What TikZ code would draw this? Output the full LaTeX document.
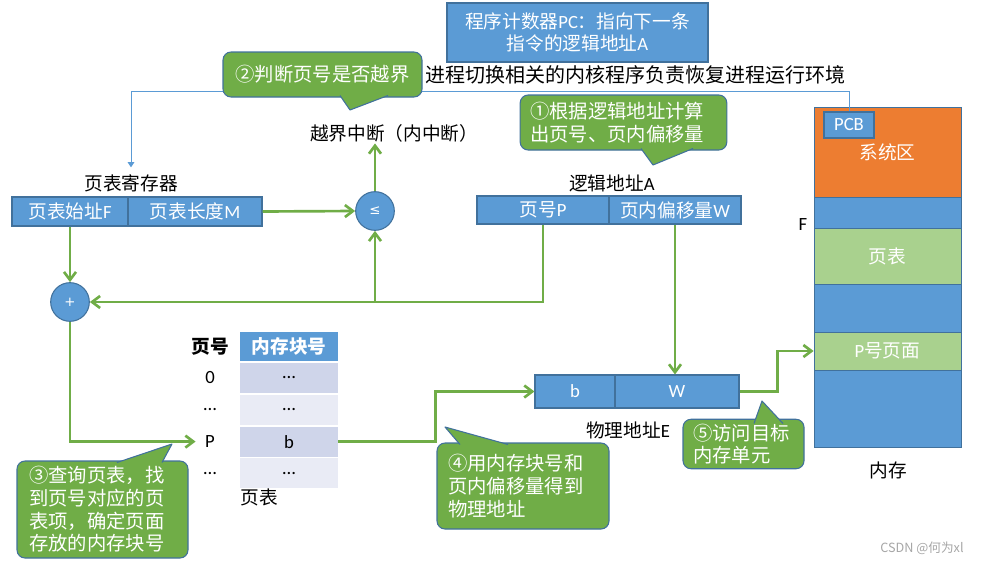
\documentclass[tikz,border=0pt]{standalone}
\usepackage{fontspec}
\setmainfont{Noto Sans CJK SC}
\newfontfamily\lat{Carlito}
\newfontfamily\sym{DejaVu Sans}
\usetikzlibrary{positioning, arrows.meta}

\definecolor{boxblue}{HTML}{5B9BD5}
\definecolor{edgeblue}{HTML}{41719C}
\definecolor{flowgreen}{HTML}{70AD47}
\definecolor{sysorange}{HTML}{ED7D31}
\definecolor{pagegreen}{HTML}{A9D18E}
\definecolor{rowdark}{HTML}{CFD5EA}
\definecolor{rowlight}{HTML}{E9EBF5}

% pointer of a callout: base point, tip, base point
\newcommand{\pointer}[3]{%
  \fill[flowgreen] #1 -- #2 -- #3 -- cycle;
  \draw[edgeblue, line width=0.8pt, line join=round] #1 -- #2 -- #3;}

\begin{document}
\begin{tikzpicture}[x=0.75pt, y=-0.75pt]
	\tikzstyle{txt} = [font=\fontsize{14}{16.5}\selectfont, inner sep=1pt]
	\tikzstyle{cell} = [rectangle, draw=edgeblue, fill=boxblue, text=white, line width=0.8pt, inner sep=0pt, font=\fontsize{14}{16}\selectfont]
	\tikzstyle{dot} = [circle, draw=edgeblue, fill=boxblue, text=white, line width=0.8pt, inner sep=0pt, minimum size=29pt, font=\fontsize{10}{12}\selectfont]
	\tikzstyle{note} = [rectangle, rounded corners=6pt, draw=edgeblue, fill=flowgreen, text=white, line width=0.8pt, font=\fontsize{14.5}{17}\selectfont, align=left]
	\tikzstyle{flow} = [draw=flowgreen, line width=2pt, -{Straight Barb[length=6pt,width=9pt]}]
	\tikzstyle{mem} = [rectangle, draw=edgeblue, line width=0.6pt, minimum width=110.25pt, inner sep=0pt, text=white, font=\fontsize{14}{16}\selectfont]
	\tikzstyle{row} = [rectangle, minimum width=73.5pt, minimum height=22.5pt, inner sep=0pt, font=\fontsize{14}{16}\selectfont]

	\useasboundingbox (0,0) rectangle (981,564);

	% program counter
	\node [cell, minimum width=195.75pt, minimum height=44.25pt, align=center] (pc) at (577.5,32.5) {程序计数器{\lat PC}：指向下一条\\指令的逻辑地址{\lat A}};
	\node [txt, font=\fontsize{15}{18}\selectfont] (ctx) at (635,75) {进程切换相关的内核程序负责恢复进程运行环境};

	% page table register
	\node [txt] (regname) at (131,183) {页表寄存器};
	\node [cell, minimum width=87pt, minimum height=21.75pt] (regF) at (70,211.5) {页表始址{\lat F}};
	\node [cell, minimum width=100.5pt, minimum height=21.75pt, right=-0.8pt of regF] (regM) {页表长度{\lat M}};
	\node [dot] (le) at (375,211) {{\sym ≤}};
	\node [dot] (plus) at (70,302) {{\sym +}};
	\node [txt] (intr) at (394,133) {越界中断（内中断）};

	% logical address
	\node [txt] (laddr) at (612,183) {逻辑地址{\lat A}};
	\node [cell, minimum width=99pt, minimum height=21pt] (pP) at (543,210) {页号{\lat P}};
	\node [cell, minimum width=99pt, minimum height=21pt, right=-0.8pt of pP] (pW) {页内偏移量{\lat W}};

	% memory
	\node [mem, fill=sysorange, minimum height=67.5pt] (sys) at (887.5,152) {系统区};
	\node [cell, minimum width=37.5pt, minimum height=19.5pt] (pcb) at (849,125) {{\lat PCB}};
	\node [mem, fill=boxblue, minimum height=23.25pt, below=-0.6pt of sys] (m1) {};
	\node [mem, fill=pagegreen, minimum height=42pt, below=-0.6pt of m1] (ptab) {页表};
	\node [mem, fill=boxblue, minimum height=36pt, below=-0.6pt of ptab] (m2) {};
	\node [mem, fill=pagegreen, minimum height=28.5pt, below=-0.6pt of m2] (page) {{\lat P}号页面};
	\node [mem, fill=boxblue, minimum height=57.75pt, below=-0.6pt of page] (m3) {};
	\node [txt] (flab) at (803,225) {{\lat F}};
	\node [txt] (memname) at (888,470) {内存};

	% page table
	\node [txt, font=\fontsize{14}{16.5}\selectfont\bfseries] (numhead) at (210,347) {页号};
	\node [row, fill=boxblue, text=white, minimum height=21.75pt, font=\fontsize{14}{16}\selectfont\bfseries] (cellhead) at (289,346.5) {内存块号};
	\node [row, fill=rowdark, below=1pt of cellhead] (cell0) {{\lat …}};
	\node [row, fill=rowlight, below=1pt of cell0] (cell1) {{\lat …}};
	\node [row, fill=rowdark, below=1pt of cell1] (cellP) {{\lat b}};
	\node [row, fill=rowlight, below=1pt of cellP] (cell3) {{\lat …}};
	\node [txt] (num0) at (numhead |- cell0) {{\lat 0}};
	\node [txt] (num1) at (numhead |- cell1) {{\lat …}};
	\node [txt] (numP) at (numhead |- cellP) {{\lat P}};
	\node [txt] (num3) at (numhead |- cell3) {{\lat …}};
	\node [txt] (ptname) at (259.5,497) {页表};

	% physical address
	\node [cell, minimum width=60pt, minimum height=24.75pt] (pb) at (575,391.5) {{\lat b}};
	\node [cell, minimum width=93pt, minimum height=24.75pt, right=-0.8pt of pb] (pw) {{\lat W}};
	\node [txt] (paddr) at (628,430) {物理地址{\lat E}};

	% data flow
	\draw [flow] (regM.east) -- (le.west);
	\draw [flow] (le.north) -- (le.north |- intr.south);
	\draw [flow] (regF.south) -- (plus.north);
	\draw [flow] (pP.south) |- (plus.east);
	\draw [flow] (le.south |- plus.east) -- (le.south);
	\draw [flow, shorten >=6pt] (plus.south) |- (numP.west);
	\draw [flow] (cellP.east) -- ++(97,0) |- (pb.west);
	\draw [flow] (pW.south) -- (pW.south |- pw.north);
	\draw [flow] (pw.east) -- ++(38,0) |- (page.west);

	% process switch restores the register
	\draw [draw=boxblue, line width=0.75pt, -{Triangle[length=4pt,width=5pt]}, shorten >=4pt] (pcb.north) -- ++(0,-20) -| (regname.north);

	% callouts
	\node [note, minimum width=149.25pt, minimum height=33.75pt, align=center] (judge) at (322.5,74.5) {②判断页号是否越界};
	\pointer{(340,95.5)}{(350,110)}{(388,95.5)}
	\node [note, text width=140pt, inner xsep=7.5pt, minimum height=41.25pt] (calc) at (623.5,122.5) {①根据逻辑地址计算\\出页号、页内偏移量};
	\pointer{(641,148.5)}{(653,165)}{(693,148.5)}
	\node [note, text width=110.25pt, inner xsep=9pt, minimum height=72.75pt] (lookup) at (102.5,509.5) {③查询页表，找\\到页号对应的页\\表项，确定页面\\存放的内存块号};
	\pointer{(117,462.5)}{(172,444)}{(162,462.5)}
	\node [note, text width=112.5pt, inner xsep=8.25pt, minimum height=64.5pt] (join) at (523,486) {④用内存块号和\\页内偏移量得到\\物理地址};
	\pointer{(460,444.5)}{(445,427)}{(508,444.5)}
	\node [note, text width=75.75pt, inner xsep=7.5pt, minimum height=33pt] (visit) at (743.5,444) {⑤访问目标\\内存单元};
	\pointer{(754,423.5)}{(762,401)}{(783,423.5)}

	\node [font=\fontsize{9.5}{11}\selectfont, text=gray!70] (mark) at (922,548) {CSDN @何为xl};
\end{tikzpicture}
\end{document}
